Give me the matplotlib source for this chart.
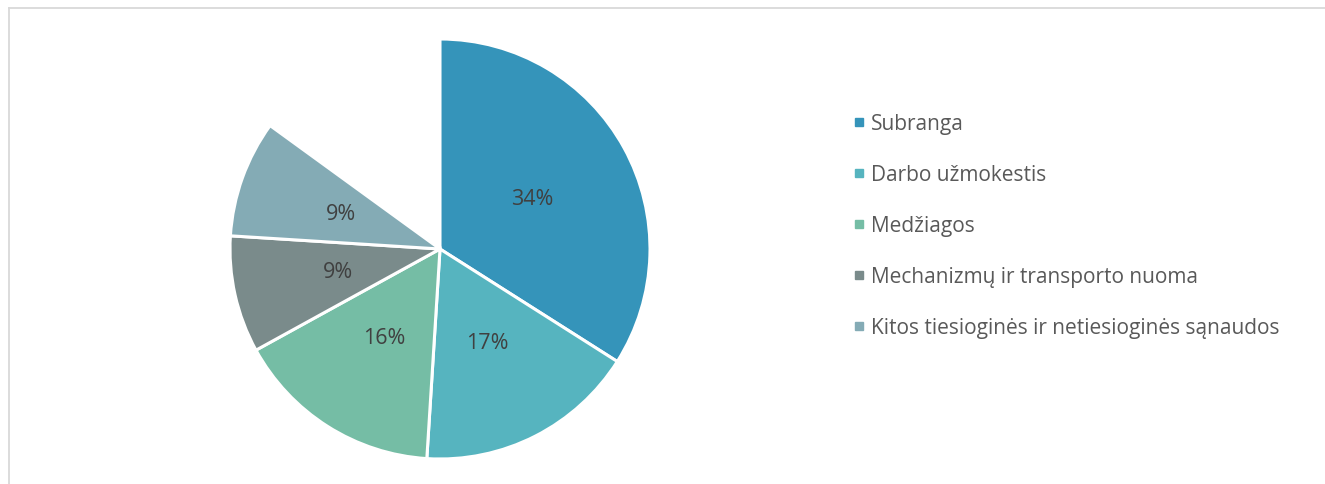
import matplotlib
matplotlib.use('Agg')
import matplotlib.pyplot as plt
from matplotlib.lines import Line2D

# cost structure shares (remaining part of the circle is left empty)
categories = ['Subranga', 'Darbo užmokestis', 'Medžiagos',
              'Mechanizmų ir transporto nuoma',
              'Kitos tiesioginės ir netiesioginės sąnaudos']
shares = [0.34, 0.17, 0.16, 0.09, 0.09]
colors = ['#3594BA', '#56B4BF', '#75BDA5', '#7A8B8B', '#84ABB5']

plt.rcParams['font.family'] = ['Open Sans', 'DejaVu Sans']

W, H = 1325, 485
fig = plt.figure(figsize=(W / 100, H / 100), dpi=100)

# pie centred at (440, 250) px, radius 210 px
cx, cy, r = 440, 250, 210
ax = fig.add_axes([(cx - r) / W, (H - cy - r) / H, 2 * r / W, 2 * r / H])
wedges, texts, autotexts = ax.pie(
    shares, colors=colors, normalize=False, startangle=90, counterclock=False,
    autopct=lambda p: '%d%%' % round(p), pctdistance=0.5,
    wedgeprops=dict(edgecolor='white', linewidth=2.2),
    textprops=dict(color='#404040', fontsize=15.5))
for w in wedges:
    w.set_clip_on(False)
ax.set_xlim(-1, 1)
ax.set_ylim(-1, 1)
ax.set_aspect('equal')
ax.axis('off')

handles = [Line2D([], [], marker='s', linestyle='none', markersize=6,
                  markerfacecolor=c, markeredgecolor=c) for c in colors]
fig.legend(handles, categories, loc='upper left',
           bbox_to_anchor=(843 / W, 1 - 104 / H), frameon=False,
           fontsize=15, labelcolor='#595959', handlelength=0.5,
           handletextpad=0.35, labelspacing=1.44, borderpad=0)

# light frame along the top and left edges
fig.add_artist(Line2D([9 / W, 1], [1 - 9 / H, 1 - 9 / H], color='#D9D9D9', lw=1.3))
fig.add_artist(Line2D([9 / W, 9 / W], [0, 1 - 9 / H], color='#D9D9D9', lw=1.3))

fig.savefig('out.png', dpi=100, facecolor='white')
